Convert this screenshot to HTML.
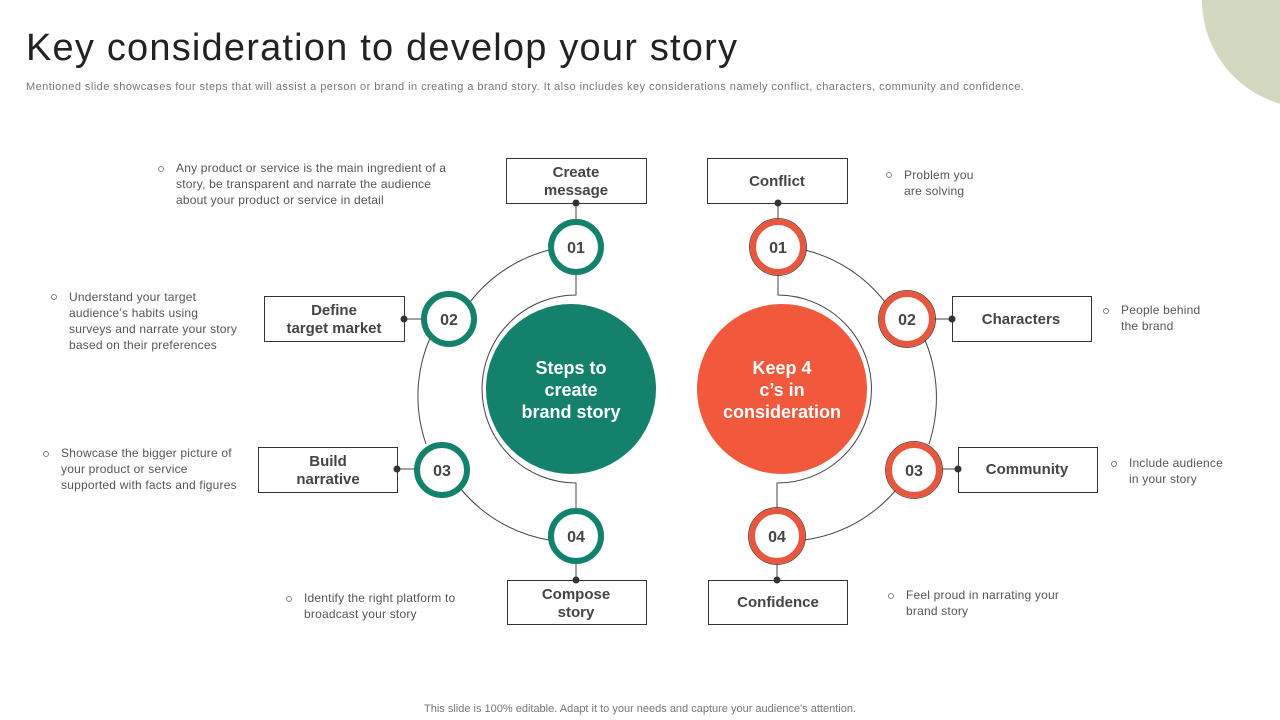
<!DOCTYPE html>
<html><head><meta charset="utf-8"><style>
html,body{margin:0;padding:0;background:#fff;}
body{width:1280px;height:720px;position:relative;overflow:hidden;font-family:"Liberation Sans",Arial,sans-serif;}
.t{position:absolute;color:#555;font-size:12px;line-height:16px;white-space:nowrap;letter-spacing:0.2px;}
</style></head><body>
<svg width="1280" height="720" style="position:absolute;left:0;top:0" xmlns="http://www.w3.org/2000/svg" font-family="Liberation Sans, Arial, sans-serif">
<circle cx="1310" cy="0" r="108" fill="#d3d9bf"/>
<text x="26" y="60" font-size="38" fill="#222" style="letter-spacing:1.2px">Key consideration to develop your story</text>
<text x="26" y="90" font-size="11" fill="#777" style="letter-spacing:0.45px">Mentioned slide showcases four steps that will assist a person or brand in creating a brand story.  It also includes key considerations namely conflict, characters, community and confidence.</text>

<g fill="none" stroke="#444" stroke-width="1">
<path d="M549,250 A146,146 0 0 0 470,302"/>
<path d="M430,338 A146,146 0 0 0 426,444"/>
<path d="M460,488 A146,146 0 0 0 549,540"/>
<path d="M576,274 L576,295 A94,94 0 0 0 576,483 L576,509"/>
<path d="M805,250 A146,146 0 0 1 885,302"/>
<path d="M925,340 A150,150 0 0 1 929,444"/>
<path d="M896,490 A146,146 0 0 1 804,540"/>
<path d="M778,274 L778,295 A94,94 0 0 1 777,483 L777,509"/>
<path d="M576,203 V221"/><path d="M778,203 V221"/>
<path d="M404,319 H422"/><path d="M934,319 H952"/>
<path d="M397,469 H415"/><path d="M941,469 H958"/>
<path d="M576,562 V580"/><path d="M777,562 V580"/>
</g>

<circle cx="571" cy="389" r="85" fill="#13816b"/>
<circle cx="782" cy="389" r="85" fill="#f2583c"/>

<g stroke-width="6" fill="#fff">
<circle cx="576" cy="247" r="25" stroke="#13816b"/>
<circle cx="449" cy="319" r="25" stroke="#13816b"/>
<circle cx="442" cy="470" r="25" stroke="#13816b"/>
<circle cx="576" cy="536" r="25" stroke="#13816b"/>
<circle cx="778" cy="247" r="25" stroke="#e7573d"/>
<circle cx="907" cy="319" r="25" stroke="#e7573d"/>
<circle cx="914" cy="470" r="25" stroke="#e7573d"/>
<circle cx="777" cy="536" r="25" stroke="#e7573d"/>
</g>
<g fill="none" stroke="#5a2a20" stroke-width="0.8">
<circle cx="778" cy="247" r="28.5"/><circle cx="907" cy="319" r="28.5"/>
<circle cx="914" cy="470" r="28.5"/><circle cx="777" cy="536" r="28.5"/>
</g>

<g font-size="16" font-weight="bold" fill="#444" text-anchor="middle">
<text x="576" y="253">01</text><text x="449" y="325">02</text><text x="442" y="476">03</text><text x="576" y="542">04</text>
<text x="778" y="253">01</text><text x="907" y="325">02</text><text x="914" y="476">03</text><text x="777" y="542">04</text>
</g>

<g fill="#fff" stroke="#333" stroke-width="1">
<rect x="506.5" y="158.5" width="140" height="45"/>
<rect x="707.5" y="158.5" width="140" height="45"/>
<rect x="264.5" y="296.5" width="140" height="45"/>
<rect x="952.5" y="296.5" width="139" height="45"/>
<rect x="258.5" y="447.5" width="139" height="45"/>
<rect x="958.5" y="447.5" width="139" height="45"/>
<rect x="507.5" y="580.5" width="139" height="44"/>
<rect x="708.5" y="580.5" width="139" height="44"/>
</g>
<g fill="#333">
<circle cx="576" cy="203" r="3.5"/><circle cx="778" cy="203" r="3.5"/>
<circle cx="404" cy="319" r="3.5"/><circle cx="952" cy="319" r="3.5"/>
<circle cx="397" cy="469" r="3.5"/><circle cx="958" cy="469" r="3.5"/>
<circle cx="576" cy="580" r="3.5"/><circle cx="777" cy="580" r="3.5"/>
</g>
<g font-size="15" font-weight="bold" fill="#444" text-anchor="middle">
<text x="576" y="177">Create</text><text x="576" y="195">message</text>
<text x="777" y="186">Conflict</text>
<text x="334" y="315">Define</text><text x="334" y="333">target market</text>
<text x="1021" y="324">Characters</text>
<text x="328" y="466">Build</text><text x="328" y="484">narrative</text>
<text x="1027" y="474">Community</text>
<text x="576" y="599">Compose</text><text x="576" y="617">story</text>
<text x="778" y="607">Confidence</text>
</g>
<g font-size="18" font-weight="bold" fill="#fff" text-anchor="middle">
<text x="571" y="374">Steps to</text><text x="571" y="396">create</text><text x="571" y="418">brand story</text>
<text x="782" y="374">Keep 4</text><text x="782" y="396">c’s in</text><text x="782" y="418">consideration</text>
</g>
<g fill="none" stroke="#666" stroke-width="0.8">
<circle cx="161" cy="169" r="2.5"/><circle cx="54" cy="297" r="2.5"/><circle cx="46" cy="454" r="2.5"/>
<circle cx="289" cy="599" r="2.5"/><circle cx="889" cy="175" r="2.5"/><circle cx="1106" cy="311" r="2.5"/>
<circle cx="1114" cy="464" r="2.5"/><circle cx="891" cy="596" r="2.5"/>
</g>
<text x="640" y="712" font-size="11" fill="#777" text-anchor="middle">This slide is 100% editable. Adapt it to your needs and capture your audience's attention.</text>
</svg>
<div class="t" style="left:176px;top:160px">Any product or service is the main ingredient of a<br>story, be transparent and narrate the audience<br>about your product or service in detail</div>
<div class="t" style="left:69px;top:289px">Understand your target<br>audience’s habits using<br>surveys and narrate your story<br>based on their preferences</div>
<div class="t" style="left:61px;top:445px">Showcase the bigger picture of<br>your product or service<br>supported with facts and figures</div>
<div class="t" style="left:304px;top:590px">Identify the right platform to<br>broadcast your story</div>
<div class="t" style="left:904px;top:167px">Problem you<br>are solving</div>
<div class="t" style="left:1121px;top:302px">People behind<br>the brand</div>
<div class="t" style="left:1129px;top:455px">Include audience<br>in your story</div>
<div class="t" style="left:906px;top:587px">Feel proud in narrating your<br>brand story</div>
</body></html>
